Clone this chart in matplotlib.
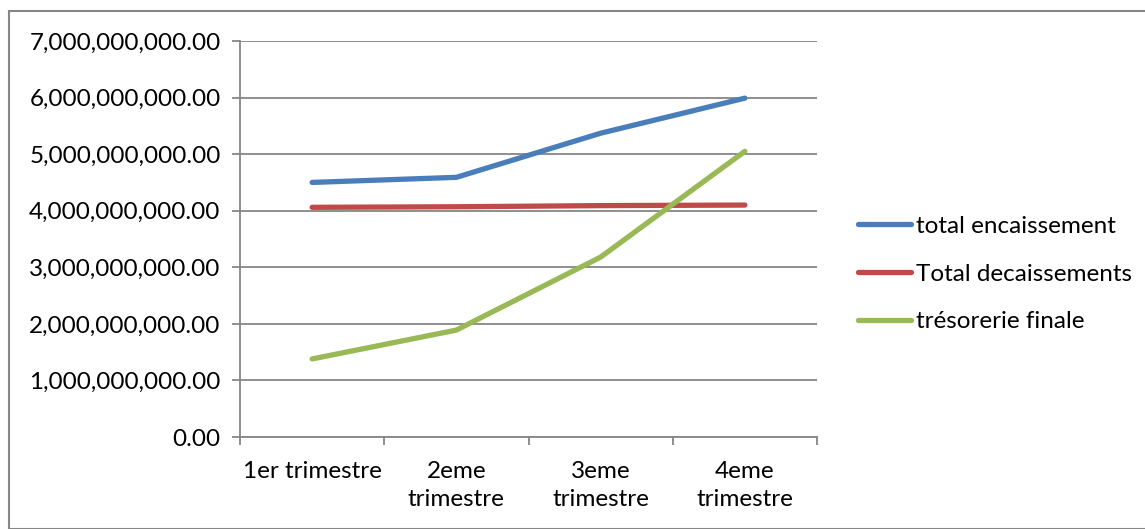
import matplotlib
matplotlib.use("Agg")
import matplotlib.pyplot as plt
from matplotlib.patches import Rectangle
from matplotlib.ticker import FuncFormatter, FixedLocator

categories = ["1er trimestre", "2eme\ntrimestre", "3eme\ntrimestre", "4eme\ntrimestre"]
encaissement = [4.50e9, 4.59e9, 5.37e9, 5.99e9]
decaissements = [4.06e9, 4.07e9, 4.09e9, 4.10e9]
tresorerie = [1.38e9, 1.89e9, 3.18e9, 5.05e9]
series_names = ["total encaissement", "Total decaissements", "trésorerie finale"]
colors = ["#4a7ebb", "#be4b48", "#98b954"]

plt.rcParams["font.family"] = ["Lato", "DejaVu Sans"]
FS = 17.5

fig = plt.figure(figsize=(11.45, 5.29), dpi=100)
fig.patches.append(Rectangle((9 / 1145, 0), 1.0, (529 - 11) / 529,
                             transform=fig.transFigure, fill=False,
                             edgecolor="#868686", lw=1.5))

ax = fig.add_axes([240 / 1145, 92 / 529, 577 / 1145, 396 / 529])
x = list(range(len(categories)))
for vals, name, c in zip([encaissement, decaissements, tresorerie], series_names, colors):
    ax.plot(x, vals, color=c, lw=3.8, solid_capstyle="round", label=name)

ax.set_xlim(-0.5, len(categories) - 0.5)
ax.set_ylim(0, 7e9)
ax.yaxis.set_major_locator(FixedLocator([i * 1e9 for i in range(8)]))
ax.yaxis.set_major_formatter(FuncFormatter(lambda v, p: f"{v:,.2f}"))
ax.grid(axis="y", color="#868686", lw=1.3)
ax.set_axisbelow(True)

ax.set_xticks([i + 0.5 for i in range(-1, len(categories))])
ax.set_xticklabels([])
ax.set_xticks(x, minor=True)
ax.set_xticklabels(categories, minor=True, fontsize=FS, linespacing=1.45, va="top")
ax.tick_params(axis="x", which="minor", length=0, pad=17)
ax.tick_params(axis="x", which="major", length=6, color="#868686", width=1.3)
ax.tick_params(axis="y", length=6, color="#868686", width=1.3, labelsize=FS, pad=8)

for s in ["top", "right"]:
    ax.spines[s].set_visible(False)
for s in ["left", "bottom"]:
    ax.spines[s].set_color("#868686")
    ax.spines[s].set_linewidth(1.3)

fig.legend(loc="center left", bbox_to_anchor=(848 / 1145, (529 - 274) / 529),
           frameon=False, fontsize=FS, handlelength=2.2, handletextpad=0.2,
           labelspacing=1.1, borderaxespad=0)

fig.savefig("out.png", dpi=100)
